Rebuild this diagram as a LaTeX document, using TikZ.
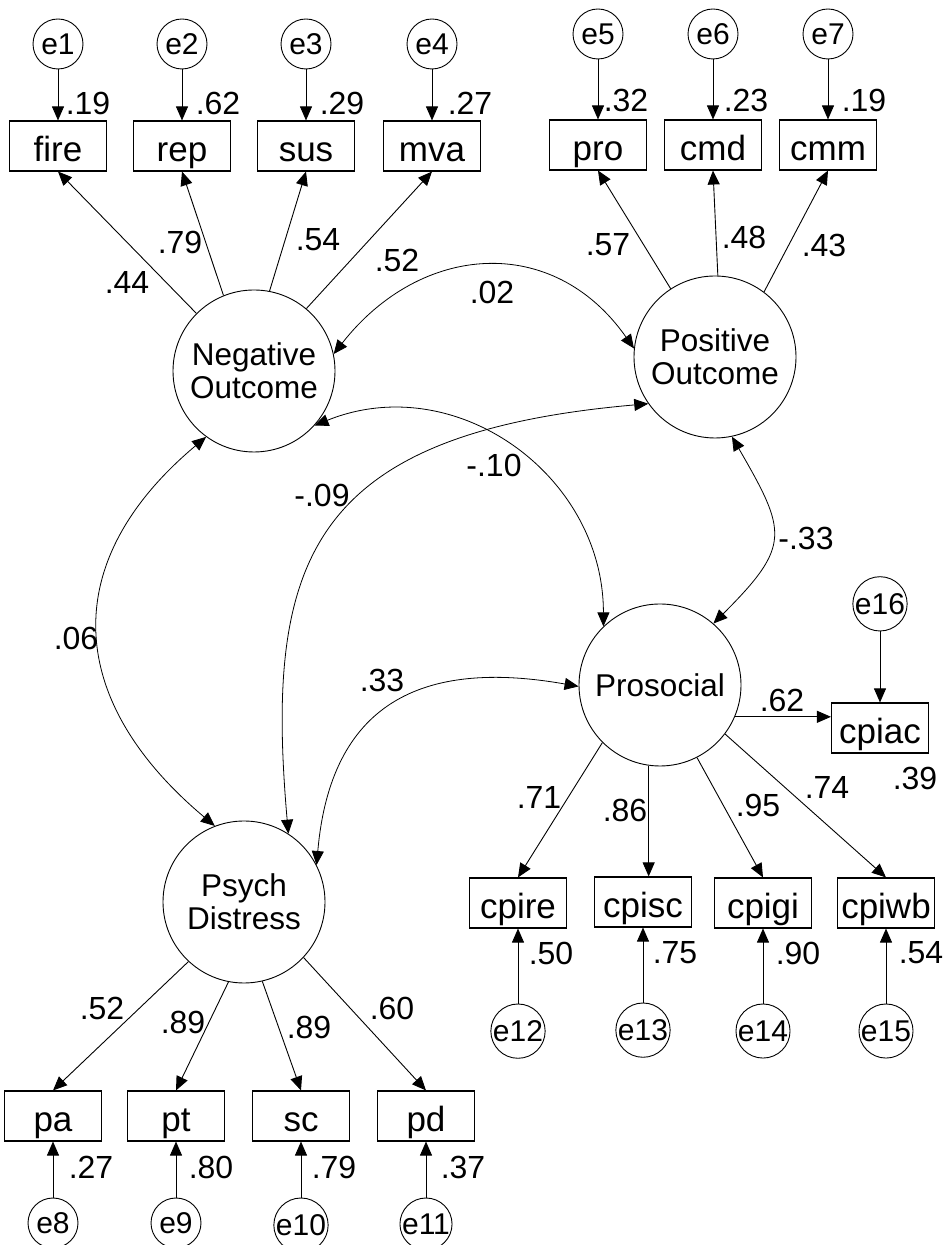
\documentclass[tikz,border=0pt]{standalone}
\usepackage{fontspec}
\setmainfont{Liberation Sans}
\usetikzlibrary{arrows.meta,positioning}
\tikzset{
  obs/.style={draw, line width=1.1pt, minimum width=97pt, minimum height=50pt, inner sep=0pt, text height=31pt, text depth=0pt, font=\fontsize{35}{37}\selectfont},
  lat/.style={draw, circle, line width=.9pt, minimum size=162pt, inner sep=0pt, align=center, font=\fontsize{31.5}{33}\selectfont},
  err/.style={draw, circle, line width=.9pt, minimum size=50pt, inner sep=0pt, font=\fontsize{30}{32}\selectfont},
  ar/.style={-{Triangle[length=14pt,width=12pt]}, line width=.9pt},
  cov/.style={{Triangle[length=14pt,width=12pt]}-{Triangle[length=14pt,width=12pt]}, line width=.8pt},
  coef/.style={font=\fontsize{32}{34}\selectfont, inner sep=0pt},
}
\begin{document}
\begin{tikzpicture}[x=1pt,y=1pt]
  \useasboundingbox (0,0) rectangle (945,1245);
  % latent factors
  \node[lat] (neg) at (254,874) {Negative\\Outcome};
  \node[lat] (pos) at (715,888) {Positive\\Outcome};
  \node[lat] (prosoc) at (660,560) {Prosocial};
  \node[lat] (psych) at (244,343) {Psych\\Distress};
  % indicators
  \node[obs] (fire) at (58,1099) {fire};
  \node[obs] (rep) at (182,1099) {rep};
  \node[obs] (sus) at (306,1099) {sus};
  \node[obs] (mva) at (432,1099) {mva};
  \node[obs] (pro) at (598,1100) {pro};
  \node[obs] (cmd) at (713,1100) {cmd};
  \node[obs] (cmm) at (828,1100) {cmm};
  \node[obs] (cpiac) at (880,517) {cpiac};
  \node[obs] (cpire) at (518,342) {cpire};
  \node[obs] (cpisc) at (643,343) {cpisc};
  \node[obs] (cpigi) at (763,342) {cpigi};
  \node[obs] (cpiwb) at (886,342) {cpiwb};
  \node[obs] (pa) at (53,129) {pa};
  \node[obs] (pt) at (176,129) {pt};
  \node[obs] (sc) at (301,129) {sc};
  \node[obs] (pd) at (426,129) {pd};
  % error terms
  \node[err, above=51pt of fire] (e1) {e1};
  \node[err, above=51pt of rep] (e2) {e2};
  \node[err, above=51pt of sus] (e3) {e3};
  \node[err, above=51pt of mva] (e4) {e4};
  \node[err, above=60pt of pro] (e5) {e5};
  \node[err, above=60pt of cmd] (e6) {e6};
  \node[err, above=60pt of cmm] (e7) {e7};
  \node[err, above=71pt of cpiac] (e16) {e16};
  \node[err, below=75pt of cpire] (e12) {e12};
  \node[err, below=75pt of cpisc] (e13) {e13};
  \node[err, below=75pt of cpigi] (e14) {e14};
  \node[err, below=75pt of cpiwb] (e15) {e15};
  \node[err, below=56pt of pa] (e8) {e8};
  \node[err, below=56pt of pt] (e9) {e9};
  \node[err, below=56pt of sc] (e10) {e10};
  \node[err, below=56pt of pd] (e11) {e11};
  \draw[ar] (e1) -- (fire);
  \draw[ar] (e2) -- (rep);
  \draw[ar] (e3) -- (sus);
  \draw[ar] (e4) -- (mva);
  \draw[ar] (e5) -- (pro);
  \draw[ar] (e6) -- (cmd);
  \draw[ar] (e7) -- (cmm);
  \draw[ar] (e16) -- (cpiac);
  \draw[ar] (e12) -- (cpire);
  \draw[ar] (e13) -- (cpisc);
  \draw[ar] (e14) -- (cpigi);
  \draw[ar] (e15) -- (cpiwb);
  \draw[ar] (e8) -- (pa);
  \draw[ar] (e9) -- (pt);
  \draw[ar] (e10) -- (sc);
  \draw[ar] (e11) -- (pd);
  % loadings
  \draw[ar] (neg.135) -- (fire.south);
  \draw[ar] (neg.112) -- (rep.south);
  \draw[ar] (neg.79) -- (sus.south);
  \draw[ar] (neg.50) -- (mva.south);
  \draw[ar] (pos.123) -- (pro.south);
  \draw[ar] (pos.88) -- (cmd.south);
  \draw[ar] (pos.53) -- (cmm.south);
  \draw[ar] (prosoc.-23) -- (prosoc.-23 -| cpiac.west);
  \draw[ar] (prosoc.225) -- (cpire.north);
  \draw[ar] (prosoc.262) -- (prosoc.262 |- cpisc.north);
  \draw[ar] (prosoc.297) -- (cpigi.north);
  \draw[ar] (prosoc.323) -- (cpiwb.north);
  \draw[ar] (psych.227) -- (pa.north);
  \draw[ar] (psych.259) -- (pt.north);
  \draw[ar] (psych.283) -- (sc.north);
  \draw[ar] (psych.317) -- (pd.north);
  % correlations
  \draw[cov] (neg.12) to[out=52, in=125, looseness=1.2] (pos.174);
  \draw[cov] (neg.318) to[out=22, in=90, looseness=1.1] (prosoc.134);
  \draw[cov] (pos.215) to[out=185, in=95, out looseness=1.56, in looseness=1.25] (psych.57);
  \draw[cov] (neg.234) to[out=220, in=140, looseness=1.28] (psych.111);
  \draw[cov] (prosoc.181) to[out=170, in=85, looseness=1.3] (psych.27);
  \draw[cov] (pos.282) to[out=-60, in=45, looseness=1.5] (prosoc.49);
  % estimates
  \node[coef] (r1) at (88,1142) {.19};
  \node[coef] (r2) at (218,1142) {.62};
  \node[coef] (r3) at (342,1142) {.29};
  \node[coef] (r4) at (470,1142) {.27};
  \node[coef] (r5) at (626,1145) {.32};
  \node[coef] (r6) at (746,1145) {.23};
  \node[coef] (r7) at (864,1145) {.19};
  \node[coef] (l1) at (127,962) {.44};
  \node[coef] (l2) at (180,1003) {.79};
  \node[coef] (l3) at (318,1005) {.54};
  \node[coef] (l4) at (397,985) {.52};
  \node[coef] (l5) at (608,1000) {.57};
  \node[coef] (l6) at (744,1008) {.48};
  \node[coef] (l7) at (824,1000) {.43};
  \node[coef] (c1) at (492,953) {.02};
  \node[coef] (c2) at (494,780) {-.10};
  \node[coef] (c3) at (322,750) {-.09};
  \node[coef] (c4) at (76,607) {.06};
  \node[coef] (c5) at (382,565) {.33};
  \node[coef] (c6) at (806,707) {-.33};
  \node[coef] (l8) at (782,545) {.62};
  \node[coef] (r16) at (915,467) {.39};
  \node[coef] (l9) at (539,448) {.71};
  \node[coef] (l10) at (625,435) {.86};
  \node[coef] (l11) at (758,440) {.95};
  \node[coef] (l12) at (827,458) {.74};
  \node[coef] (r12) at (551,292) {.50};
  \node[coef] (r13) at (675,292) {.75};
  \node[coef] (r14) at (798,292) {.90};
  \node[coef] (r15) at (921,292) {.54};
  \node[coef] (l13) at (102,237) {.52};
  \node[coef] (l14) at (183,223) {.89};
  \node[coef] (l15) at (309,218) {.89};
  \node[coef] (l16) at (392,237) {.60};
  \node[coef] (r8) at (91,78) {.27};
  \node[coef] (r9) at (211,78) {.80};
  \node[coef] (r10) at (334,78) {.79};
  \node[coef] (r11) at (463,78) {.37};
\end{tikzpicture}
\end{document}
